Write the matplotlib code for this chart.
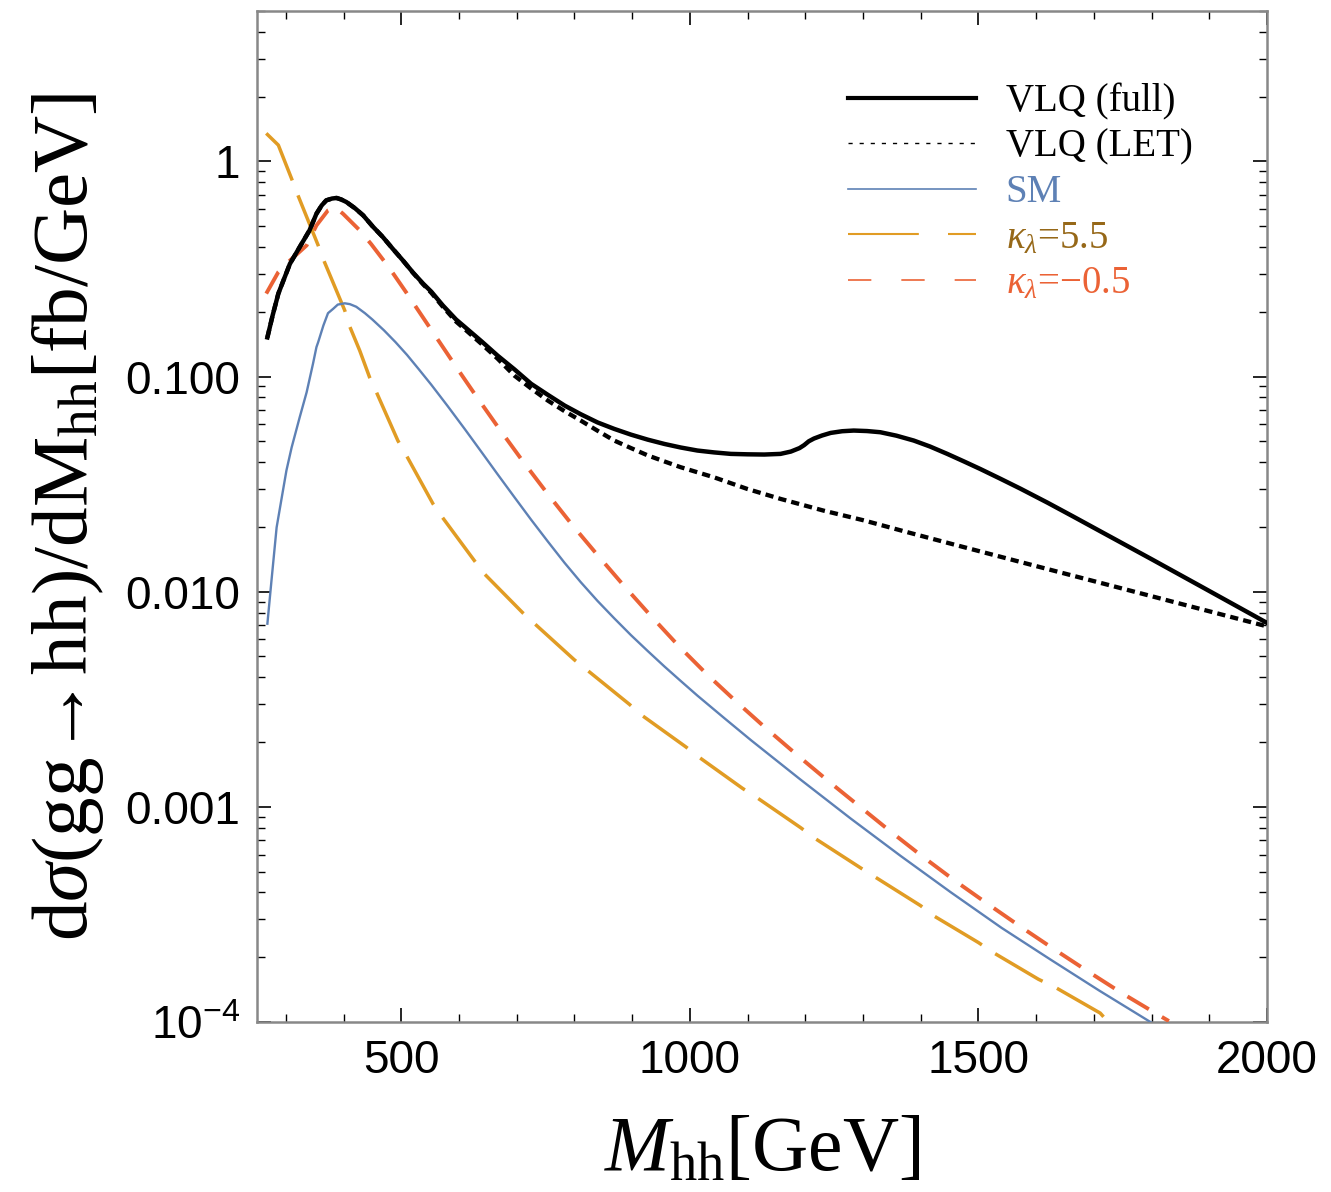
import matplotlib
matplotlib.use("Agg")
import matplotlib.pyplot as plt
from matplotlib.lines import Line2D
from matplotlib.ticker import FixedLocator, MultipleLocator, NullFormatter

plt.rcParams['mathtext.fontset'] = 'custom'
plt.rcParams['mathtext.rm'] = 'Liberation Serif'
plt.rcParams['mathtext.it'] = 'Liberation Serif:italic'
plt.rcParams['mathtext.sf'] = 'Liberation Sans'
plt.rcParams['font.family'] = ['Liberation Sans', 'DejaVu Sans']

# ---------------- data ----------------
m_full = [268, 277, 287, 297, 307, 324, 341, 353, 362, 370, 380, 388, 396, 405,
          420, 434, 450, 468, 485, 503, 520, 538, 552, 572, 595, 610, 640, 667,
          696, 725, 754, 783, 811, 840, 869, 898, 927, 956, 984, 1013, 1042, 1071,
          1100, 1129, 1157, 1175, 1190, 1198, 1206, 1215, 1229, 1244, 1264, 1284,
          1307, 1330, 1358, 1388, 1416, 1446, 1475, 1503, 1538, 1573, 1620, 1665,
          1711, 1800, 1884, 2000]
vlq_full = [0.152, 0.192, 0.243, 0.285, 0.334, 0.400, 0.478, 0.571, 0.624, 0.659,
            0.672, 0.676, 0.665, 0.647, 0.605, 0.561, 0.500, 0.445, 0.393, 0.346,
            0.305, 0.270, 0.248, 0.214, 0.184, 0.170, 0.145, 0.125, 0.108, 0.0925,
            0.0822, 0.0733, 0.0668, 0.0612, 0.0571, 0.0537, 0.0509, 0.0486, 0.0468,
            0.0453, 0.0444, 0.0437, 0.0435, 0.0434, 0.0437, 0.0448, 0.0465, 0.0480,
            0.0500, 0.0515, 0.0532, 0.0547, 0.0557, 0.0561, 0.0558, 0.0551, 0.0531,
            0.0504, 0.0473, 0.0437, 0.0403, 0.0372, 0.0335, 0.0301, 0.0259, 0.0223,
            0.0191, 0.01416, 0.01064, 0.00716]

m_let = [268, 277, 287, 297, 307, 324, 341, 353, 362, 370, 380, 388, 396, 405,
         420, 434, 450, 468, 485, 503, 520, 538, 552, 572, 595, 610, 640, 667,
         696, 725, 754, 783, 811, 840, 869, 898, 927, 956, 984, 1042, 1100, 1157,
         1232, 1300, 1377, 1460, 1550, 1630, 1711, 1800, 1884, 2000]
vlq_let = [0.152, 0.192, 0.243, 0.285, 0.334, 0.400, 0.478, 0.571, 0.624, 0.659,
           0.672, 0.676, 0.665, 0.647, 0.605, 0.561, 0.500, 0.445, 0.393, 0.346,
           0.304, 0.268, 0.245, 0.211, 0.180, 0.166, 0.141, 0.121, 0.101, 0.088,
           0.0773, 0.069, 0.0624, 0.056, 0.0504, 0.0465, 0.043, 0.0403, 0.0379,
           0.034, 0.030, 0.027, 0.0238, 0.0215, 0.0189, 0.0165, 0.01426, 0.01253,
           0.0110, 0.00953, 0.00832, 0.0069]

m_sm = [268, 275, 284, 293, 301, 310, 324, 336, 347, 353, 356, 365, 373, 382,
        390, 402, 411, 422, 437, 450, 470, 490, 510, 530, 552, 580, 610, 640,
        667, 696, 725, 754, 783, 811, 840, 869, 898, 927, 956, 984, 1013, 1060,
        1106, 1190, 1279, 1365, 1452, 1540, 1625, 1710, 1798]
sm = [0.0071, 0.0112, 0.0199, 0.0275, 0.0366, 0.0468, 0.0647, 0.0845, 0.1146,
      0.137, 0.1445, 0.1726, 0.197, 0.2065, 0.216, 0.219, 0.217, 0.211, 0.197,
      0.184, 0.164, 0.1445, 0.126, 0.1084, 0.0916, 0.0731, 0.0570, 0.0442,
      0.0351, 0.0275, 0.0216, 0.0171, 0.01361, 0.01107, 0.00906, 0.00752,
      0.00628, 0.00530, 0.00449, 0.00385, 0.00329, 0.00258, 0.00204, 0.00135,
      0.000881, 0.000592, 0.000401, 0.000274, 0.000195, 0.0001396, 0.000100]

m_k55 = [266, 287, 310, 321, 356, 367, 402, 411, 428, 445, 457, 494, 509, 555,
         571, 627, 644, 710, 731, 800, 823, 895, 918, 993, 1016, 1091, 1117, 1192,
         1218, 1296, 1322, 1400, 1423, 1500, 1526, 1604, 1633, 1711, 1722]
k55 = [1.35, 1.19, 0.83, 0.695, 0.407, 0.34, 0.203, 0.17, 0.132, 0.0993, 0.0845,
       0.0504, 0.0429, 0.0256, 0.0222, 0.0139, 0.0121, 0.0080, 0.0071, 0.00482,
       0.0043, 0.0030, 0.00265, 0.0019, 0.0017, 0.00122, 0.0011, 0.0008, 0.00071,
       0.00052, 0.00047, 0.000347, 0.000311, 0.000234, 0.00021, 0.000158,
       0.000145, 0.00011, 0.000102]

m_km05 = [266, 287, 307, 336, 353, 373, 385, 399, 428, 448, 471, 486, 509, 526,
          549, 566, 600, 630, 670, 710, 754, 797, 840, 886, 932, 981, 1030, 1080,
          1131, 1186, 1241, 1293, 1348, 1403, 1460, 1516, 1575, 1631, 1691, 1749,
          1809, 1830]
km05 = [0.243, 0.306, 0.346, 0.407, 0.504, 0.592, 0.613, 0.571, 0.478, 0.412,
        0.342, 0.301, 0.245, 0.2094, 0.1694, 0.1449, 0.106, 0.0809, 0.057, 0.0406,
        0.0284, 0.0203, 0.0148, 0.01064, 0.00774, 0.00558, 0.00412, 0.00309,
        0.00233, 0.00174, 0.00131, 0.00101, 0.000767, 0.000588, 0.000452,
        0.000354, 0.000275, 0.000218, 0.000171, 0.000136, 0.000109, 0.000101]

labels = ['VLQ (full)', 'VLQ (LET)', 'SM', r'$\kappa_\lambda$=5.5', r'$\kappa_\lambda$=$-$0.5']
x_ticks = [500, 1000, 1500, 2000]
y_ticks = [1e-4, 1e-3, 1e-2, 1e-1, 1]
y_ticklabels = [r'$\mathsf{10^{-4}}$', '0.001', '0.010', '0.100', '1']

c_blue = '#5E81B5'
c_orange = '#E19C24'
c_red = '#EB6235'
c_orange_txt = '#966818'

# ---------------- figure ----------------
fig = plt.figure(figsize=(13.31, 11.92), dpi=100)
ax = fig.add_axes([257/1331, 1 - 1022/1192, (1267-257)/1331, (1022-11)/1192])

ax.plot(m_km05, km05, color=c_red, lw=2.8, dashes=(6.4, 3.9), zorder=3)
ax.plot(m_k55, k55, color=c_orange, lw=2.5, dashes=(15.8, 4.6), zorder=3)
ax.plot(m_sm, sm, color=c_blue, lw=1.7, zorder=3)
ax.plot(m_let, vlq_let, color='black', lw=3.1, dashes=(1.9, 1.2), zorder=4)
ax.plot(m_full, vlq_full, color='black', lw=3.2, zorder=5)

ax.set_yscale('log')
ax.set_xlim(250, 2000)
ax.set_ylim(1e-4, 5)

ax.xaxis.set_major_locator(FixedLocator(x_ticks))
ax.set_xticklabels([str(t) for t in x_ticks])
ax.xaxis.set_minor_locator(MultipleLocator(100))
ax.yaxis.set_major_locator(FixedLocator(y_ticks))
ax.set_yticklabels(y_ticklabels)
minor_y = [s * 10.0**e for e in range(-4, 1) for s in range(2, 10)]
ax.yaxis.set_minor_locator(FixedLocator(minor_y))
ax.yaxis.set_minor_formatter(NullFormatter())

ax.tick_params(which='both', direction='in', top=True, right=True, color='black')
ax.tick_params(which='major', length=10, width=1.2, labelsize=33, pad=12)
ax.tick_params(which='minor', length=6, width=1.0)
for s in ax.spines.values():
    s.set_color('#888888')
    s.set_linewidth(1.8)

ax.set_xlabel(r'$M_{\mathrm{hh}}[\mathrm{GeV}]$', fontsize=56, labelpad=22)
ax.set_ylabel(r'$\mathrm{d}\sigma(\mathrm{gg}\!\rightarrow\!\mathrm{hh})/\mathrm{dM}_{\mathrm{hh}}[\mathrm{fb/GeV}]$',
              fontsize=57, labelpad=14)

handles = [
    Line2D([], [], color='black', lw=3.0),
    Line2D([], [], color='black', lw=1.0, dashes=(3, 5)),
    Line2D([], [], color=c_blue, lw=1.2),
    Line2D([], [], color=c_orange, lw=1.5, dashes=(34, 14)),
    Line2D([], [], color=c_red, lw=1.2, dashes=(14, 18)),
]
leg = ax.legend(handles, labels, loc='upper left', bbox_to_anchor=(0.566, 0.948),
                frameon=False, prop={'family': 'Liberation Serif', 'size': 28},
                handlelength=3.3, handletextpad=0.75, labelspacing=0.22, borderpad=0)
txt_colors = ['black', 'black', c_blue, c_orange_txt, c_red]
for t, c in zip(leg.get_texts(), txt_colors):
    t.set_color(c)

fig.savefig('out.png', dpi=100)
